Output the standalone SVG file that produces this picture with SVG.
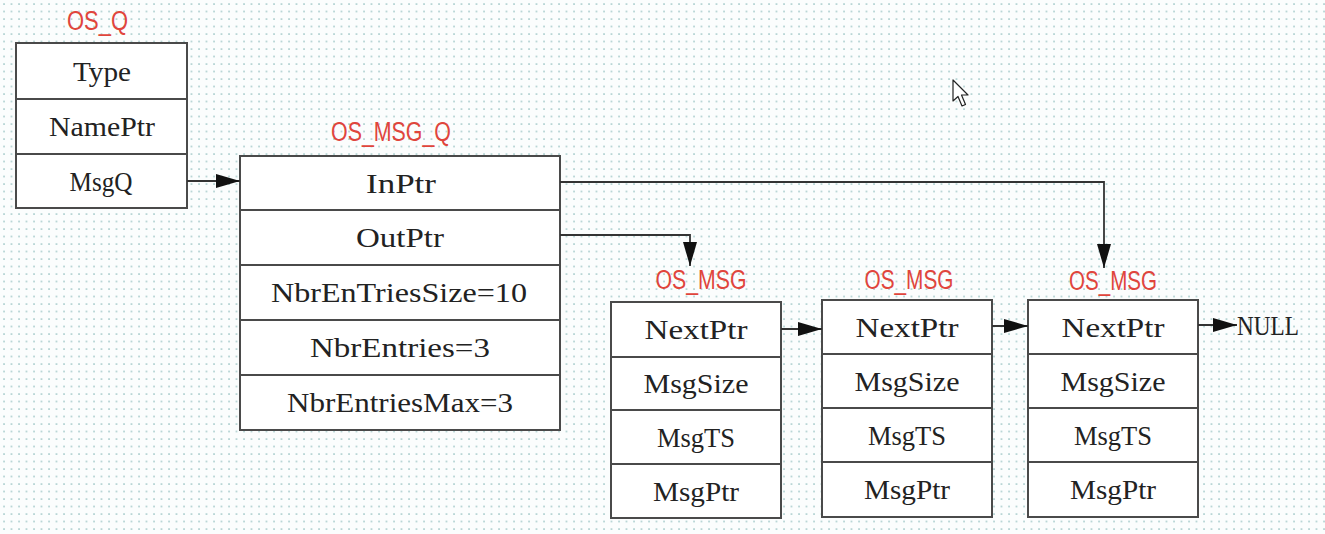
<svg xmlns="http://www.w3.org/2000/svg" width="1325" height="534" viewBox="0 0 1325 534">
<defs>
<pattern id="grid" x="3" y="3" width="7.5" height="7.5" patternUnits="userSpaceOnUse">
<circle cx="1" cy="1" r="0.85" fill="#8fbdbd"/>
</pattern>
<marker id="ah" viewBox="0 0 24 14" refX="24" refY="7" markerWidth="24" markerHeight="14" markerUnits="userSpaceOnUse" orient="auto">
<path d="M0,0 L24,7 L0,14 z" fill="#111"/>
</marker>
</defs>
<style>
.box{fill:#fff;stroke:#4a4a4a;stroke-width:2}
.sep{stroke:#4a4a4a;stroke-width:2}
.t{font-family:"Liberation Serif",serif;font-size:28px;fill:#222;text-anchor:middle}
.lbl{font-family:"Liberation Sans",sans-serif;font-size:27px;fill:#e0453c;text-anchor:middle}
.c{fill:none;stroke:#333;stroke-width:1.8;marker-end:url(#ah)}
</style>
<rect width="1325" height="534" fill="#fbfdfd"/>
<rect width="1325" height="534" fill="url(#grid)"/>

<g id="os_q">
<text class="lbl" x="97.5" y="30" textLength="61" lengthAdjust="spacingAndGlyphs">OS_Q</text>
<rect class="box" x="16" y="43" width="171" height="165"/>
<line class="sep" x1="16" y1="99" x2="187" y2="99"/>
<line class="sep" x1="16" y1="154" x2="187" y2="154"/>
<text class="t" x="102" y="81" textLength="58" lengthAdjust="spacingAndGlyphs">Type</text>
<text class="t" x="102" y="136" textLength="106" lengthAdjust="spacingAndGlyphs">NamePtr</text>
<text class="t" x="101" y="191" textLength="63" lengthAdjust="spacingAndGlyphs">MsgQ</text>
</g>

<g id="os_msg_q">
<text class="lbl" x="391" y="141" textLength="120" lengthAdjust="spacingAndGlyphs">OS_MSG_Q</text>
<rect class="box" x="240" y="156" width="320" height="274"/>
<line class="sep" x1="240" y1="210" x2="560" y2="210"/>
<line class="sep" x1="240" y1="265" x2="560" y2="265"/>
<line class="sep" x1="240" y1="320" x2="560" y2="320"/>
<line class="sep" x1="240" y1="375" x2="560" y2="375"/>
<text class="t" x="401" y="193" textLength="70" lengthAdjust="spacingAndGlyphs">InPtr</text>
<text class="t" x="400" y="247" textLength="88" lengthAdjust="spacingAndGlyphs">OutPtr</text>
<text class="t" x="399" y="302" textLength="256" lengthAdjust="spacingAndGlyphs">NbrEnTriesSize=10</text>
<text class="t" x="400" y="357" textLength="180" lengthAdjust="spacingAndGlyphs">NbrEntries=3</text>
<text class="t" x="400" y="412" textLength="226" lengthAdjust="spacingAndGlyphs">NbrEntriesMax=3</text>
</g>

<g id="os_msg_1">
<text class="lbl" x="701" y="289" textLength="91" lengthAdjust="spacingAndGlyphs">OS_MSG</text>
<rect class="box" x="611" y="302" width="170" height="216"/>
<line class="sep" x1="611" y1="357" x2="781" y2="357"/>
<line class="sep" x1="611" y1="410" x2="781" y2="410"/>
<line class="sep" x1="611" y1="464" x2="781" y2="464"/>
<text class="t" x="696" y="339" textLength="103" lengthAdjust="spacingAndGlyphs">NextPtr</text>
<text class="t" x="696" y="393" textLength="105" lengthAdjust="spacingAndGlyphs">MsgSize</text>
<text class="t" x="696" y="447" textLength="78" lengthAdjust="spacingAndGlyphs">MsgTS</text>
<text class="t" x="696" y="501" textLength="86" lengthAdjust="spacingAndGlyphs">MsgPtr</text>
</g>

<g id="os_msg_2">
<text class="lbl" x="909" y="289" textLength="89" lengthAdjust="spacingAndGlyphs">OS_MSG</text>
<rect class="box" x="822" y="300" width="170" height="217"/>
<line class="sep" x1="822" y1="354" x2="992" y2="354"/>
<line class="sep" x1="822" y1="408" x2="992" y2="408"/>
<line class="sep" x1="822" y1="462" x2="992" y2="462"/>
<text class="t" x="907" y="337" textLength="103" lengthAdjust="spacingAndGlyphs">NextPtr</text>
<text class="t" x="907" y="391" textLength="105" lengthAdjust="spacingAndGlyphs">MsgSize</text>
<text class="t" x="907" y="445" textLength="78" lengthAdjust="spacingAndGlyphs">MsgTS</text>
<text class="t" x="907" y="499" textLength="86" lengthAdjust="spacingAndGlyphs">MsgPtr</text>
</g>

<g id="os_msg_3">
<text class="lbl" x="1113" y="290" textLength="88" lengthAdjust="spacingAndGlyphs">OS_MSG</text>
<rect class="box" x="1028" y="300" width="170" height="217"/>
<line class="sep" x1="1028" y1="354" x2="1198" y2="354"/>
<line class="sep" x1="1028" y1="408" x2="1198" y2="408"/>
<line class="sep" x1="1028" y1="462" x2="1198" y2="462"/>
<text class="t" x="1113" y="337" textLength="103" lengthAdjust="spacingAndGlyphs">NextPtr</text>
<text class="t" x="1113" y="391" textLength="105" lengthAdjust="spacingAndGlyphs">MsgSize</text>
<text class="t" x="1113" y="445" textLength="78" lengthAdjust="spacingAndGlyphs">MsgTS</text>
<text class="t" x="1113" y="499" textLength="86" lengthAdjust="spacingAndGlyphs">MsgPtr</text>
</g>

<g id="null">
<text class="t" x="1237" y="335" style="text-anchor:start" textLength="62" lengthAdjust="spacingAndGlyphs">NULL</text>
</g>

<g id="connectors">
<path class="c" d="M187,181 H240"/>
<path class="c" d="M560,182 H1104 V268"/>
<path class="c" d="M560,235 H690 V266"/>
<path class="c" d="M781,329 H822"/>
<path class="c" d="M992,326 H1028"/>
<path class="c" d="M1198,325 H1237"/>
</g>

<g id="cursor">
<path d="M953,80 V101 L958,96.5 L962,106 L965.5,104.5 L961.5,95 L968,95 Z" fill="#fff" stroke="#222" stroke-width="1.2" stroke-linejoin="round"/>
</g>
</svg>
